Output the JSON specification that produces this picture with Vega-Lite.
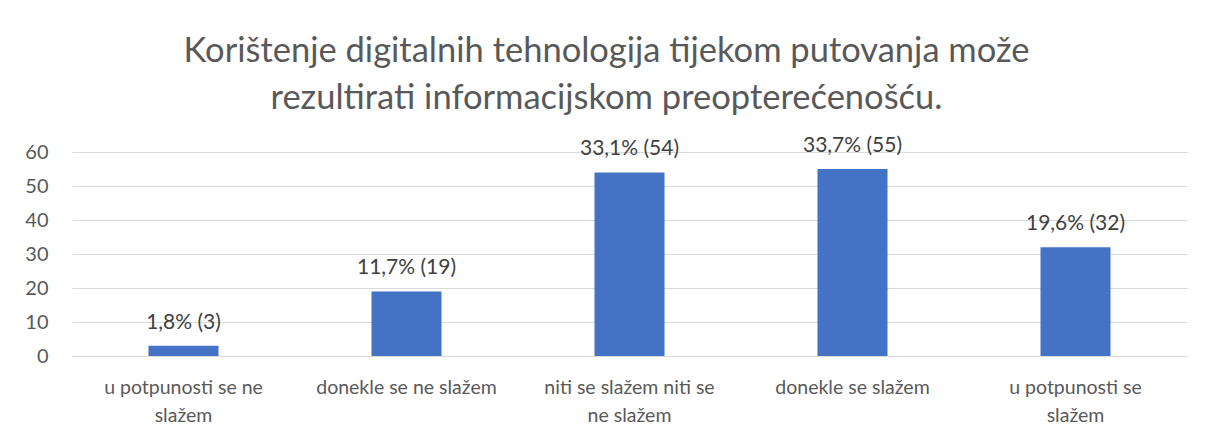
{
  "$schema": "https://vega.github.io/schema/vega-lite/v6.json",
  "autosize": "none",
  "width": 1115,
  "height": 204,
  "padding": {"left": 72, "top": 152, "right": 25, "bottom": 85},
  "background": "white",
  "title": {
    "text": ["Korištenje digitalnih tehnologija tijekom putovanja može", "rezultirati informacijskom preopterećenošću."],
    "font": "Lato",
    "fontSize": 34.5,
    "fontWeight": "normal",
    "color": "#595959",
    "anchor": "middle",
    "dx": -23,
    "offset": 19,
    "lineHeight": 47
  },
  "data": {
    "values": [
      {"odgovor": "u potpunosti se ne slažem", "broj": 3, "oznaka": "1,8% (3)"},
      {"odgovor": "donekle se ne slažem", "broj": 19, "oznaka": "11,7% (19)"},
      {"odgovor": "niti se slažem niti se ne slažem", "broj": 54, "oznaka": "33,1% (54)"},
      {"odgovor": "donekle se slažem", "broj": 55, "oznaka": "33,7% (55)"},
      {"odgovor": "u potpunosti se slažem", "broj": 32, "oznaka": "19,6% (32)"}
    ]
  },
  "encoding": {
    "x": {
      "field": "odgovor",
      "type": "nominal",
      "sort": null,
      "scale": {"paddingInner": 0.686, "paddingOuter": 0.343},
      "axis": {
        "title": null,
        "labelAngle": 0,
        "labelFont": "Lato",
        "labelFontSize": 19.5,
        "labelColor": "#595959",
        "labelPadding": 22,
        "labelLineHeight": 28,
        "labelLimit": 300,
        "ticks": false,
        "domainColor": "#d9d9d9",
        "domainWidth": 1,
        "labelExpr": "datum.value == 'u potpunosti se ne slažem' ? ['u potpunosti se ne', 'slažem'] : datum.value == 'niti se slažem niti se ne slažem' ? ['niti se slažem niti se', 'ne slažem'] : datum.value == 'u potpunosti se slažem' ? ['u potpunosti se', 'slažem'] : datum.value"
      }
    },
    "y": {
      "field": "broj",
      "type": "quantitative",
      "scale": {"domain": [0, 60], "nice": false},
      "axis": {
        "title": null,
        "values": [0, 10, 20, 30, 40, 50, 60],
        "labelFont": "Lato",
        "labelFontSize": 20,
        "labelColor": "#595959",
        "labelPadding": 24,
        "ticks": false,
        "domain": false,
        "gridColor": "#d9d9d9",
        "gridWidth": 1
      }
    }
  },
  "layer": [
    {"mark": {"type": "bar", "color": "#4472C4"}},
    {
      "mark": {"type": "text", "baseline": "alphabetic", "dy": -17, "font": "Lato", "fontSize": 21, "color": "#404040"},
      "encoding": {"text": {"field": "oznaka"}}
    }
  ],
  "config": {"view": {"stroke": null}}
}
